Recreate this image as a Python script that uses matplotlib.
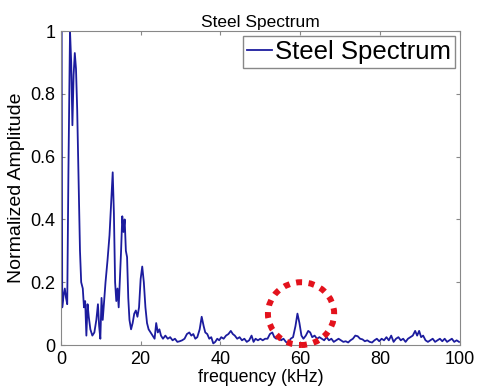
import matplotlib.pyplot as plt
from matplotlib.patches import Ellipse

plt.rcParams['font.family'] = ['Liberation Sans', 'DejaVu Sans']

# spectrum (kHz, normalized amplitude)
freq = [0.0, 0.08, 0.2, 0.35, 0.7, 1.0, 1.3, 1.6, 1.9, 2.3, 2.6, 2.9, 3.2, 3.5, 3.8,
        4.1, 4.4, 4.8, 5.1, 5.5, 5.8, 6.1, 6.4, 6.7, 7.0, 7.4, 7.9, 8.4, 8.9, 9.3,
        9.6, 9.9, 10.2, 10.5, 10.8, 11.2, 11.7, 12.2, 12.6, 13.0, 13.3, 13.6, 13.9, 14.2, 14.5,
        14.8, 15.1, 15.4, 15.7, 16.0, 16.3, 16.6, 16.9, 17.2, 17.6, 18.0, 18.4, 18.8, 19.2, 19.6,
        20.0, 20.4, 20.8, 21.2, 21.6, 22.0, 22.5, 23.0, 23.5, 23.9, 24.3, 24.7, 25.1, 25.6, 26.2,
        26.8, 27.4, 28.0, 28.6, 29.2, 29.8, 30.4, 31.0, 31.6, 32.2, 32.7, 33.2, 33.7, 34.2, 34.8,
        35.3, 35.8, 36.2, 36.7, 37.2, 37.7, 38.2, 38.7, 39.2, 39.7, 40.2, 40.8, 41.4, 42.0, 42.6,
        43.1, 43.6, 44.2, 44.8, 45.4, 46.0, 46.6, 47.2, 47.8, 48.3, 48.8, 49.4, 50.0, 50.6, 51.2,
        51.8, 52.4, 53.0, 53.5, 54.0, 54.6, 55.2, 55.8, 56.4, 57.0, 57.6, 58.2, 58.8, 59.3, 59.8,
        60.3, 60.8, 61.4, 62.0, 62.5, 63.0, 63.6, 64.2, 64.8, 65.4, 66.0, 66.6, 67.2, 67.8, 68.4,
        69.0, 69.6, 70.2, 70.8, 71.4, 72.0, 72.6, 73.2, 73.8, 74.4, 75.0, 75.6, 76.2, 76.8, 77.4,
        78.0, 78.6, 79.2, 79.8, 80.4, 81.0, 81.6, 82.2, 82.8, 83.4, 84.0, 84.6, 85.2, 85.8, 86.4,
        87.0, 87.6, 88.2, 88.8, 89.3, 89.8, 90.3, 90.8, 91.4, 92.0, 92.6, 93.2, 93.8, 94.4, 95.0,
        95.6, 96.2, 96.8, 97.4, 98.0, 98.6, 99.2, 99.8]
amp = [0.10, 1.0, 1.0, 0.12, 0.16, 0.18, 0.15, 0.13, 0.55, 1.0, 0.90, 0.70, 0.86, 0.93, 0.88,
       0.75, 0.55, 0.30, 0.20, 0.18, 0.12, 0.14, 0.03, 0.13, 0.09, 0.05, 0.03, 0.04, 0.08, 0.13,
       0.06, 0.02, 0.15, 0.08, 0.13, 0.20, 0.27, 0.35, 0.45, 0.55, 0.42, 0.20, 0.14, 0.18, 0.12,
       0.21, 0.30, 0.41, 0.36, 0.40, 0.30, 0.28, 0.15, 0.08, 0.05, 0.07, 0.10, 0.11, 0.09, 0.12,
       0.21, 0.25, 0.20, 0.12, 0.07, 0.05, 0.04, 0.03, 0.02, 0.07, 0.04, 0.05, 0.03, 0.02, 0.03,
       0.02, 0.025, 0.015, 0.02, 0.01, 0.012, 0.015, 0.02, 0.035, 0.04, 0.03, 0.035, 0.02, 0.025, 0.05,
       0.09, 0.06, 0.04, 0.035, 0.02, 0.025, 0.005, 0.01, 0.02, 0.015, 0.025, 0.02, 0.03, 0.035, 0.045,
       0.035, 0.03, 0.02, 0.025, 0.015, 0.02, 0.01, 0.015, 0.03, 0.01, 0.02, 0.015, 0.02, 0.015, 0.02,
       0.02, 0.035, 0.04, 0.025, 0.02, 0.03, 0.015, 0.02, 0.01, 0.005, 0.02, 0.025, 0.06, 0.10, 0.07,
       0.03, 0.02, 0.03, 0.045, 0.04, 0.025, 0.03, 0.02, 0.025, 0.02, 0.015, 0.025, 0.015, 0.02, 0.01,
       0.015, 0.02, 0.015, 0.01, 0.012, 0.008, 0.015, 0.02, 0.03, 0.028, 0.02, 0.018, 0.012, 0.015, 0.01,
       0.008, 0.015, 0.02, 0.012, 0.02, 0.015, 0.025, 0.015, 0.03, 0.01, 0.02, 0.025, 0.015, 0.02, 0.01,
       0.02, 0.025, 0.03, 0.045, 0.03, 0.045, 0.025, 0.03, 0.015, 0.01, 0.015, 0.02, 0.01, 0.015, 0.02,
       0.012, 0.02, 0.01, 0.015, 0.02, 0.01, 0.015, 0.01]

xticks = [0, 20, 40, 60, 80, 100]
yticks = [0, 0.2, 0.4, 0.6, 0.8, 1]
ytick_labels = ['0', '0.2', '0.4', '0.6', '0.8', '1']

fig = plt.figure(figsize=(4.79, 3.91), dpi=100)
ax = fig.add_axes([0.127, 0.1176, 0.833, 0.803])

ax.plot(freq, amp, color='#1c1c9e', lw=1.3, label='Steel Spectrum')

# red dotted circle around the 60 kHz peak
circ = Ellipse((60.2, 0.1), 16.6, 0.2, fill=False, edgecolor='#e3121c',
               lw=4.3, linestyle=(0, (1, 1.1)), clip_on=False, zorder=5)
ax.add_patch(circ)

ax.set_xlim(0, 100)
ax.set_ylim(0, 1)
ax.set_xticks(xticks)
ax.set_yticks(yticks)
ax.set_yticklabels(ytick_labels)
ax.tick_params(direction='in', top=True, right=True, labelsize=13,
               color='#888888', length=3, pad=4)
for s in ax.spines.values():
    s.set_color('#888888')

ax.set_title('Steel Spectrum', fontsize=12.5, pad=3)
ax.set_xlabel('frequency (kHz)', fontsize=12.8, labelpad=1)
ax.set_ylabel('Normalized Amplitude', fontsize=14, labelpad=4)

leg = ax.legend(loc='upper right', fontsize=18.5, handlelength=1.0,
                handletextpad=0.1, borderpad=0.15, borderaxespad=0.2,
                fancybox=False, framealpha=1)
leg.get_frame().set_edgecolor('#888888')
leg.get_frame().set_linewidth(1.0)

fig.savefig('out.png', dpi=100)
